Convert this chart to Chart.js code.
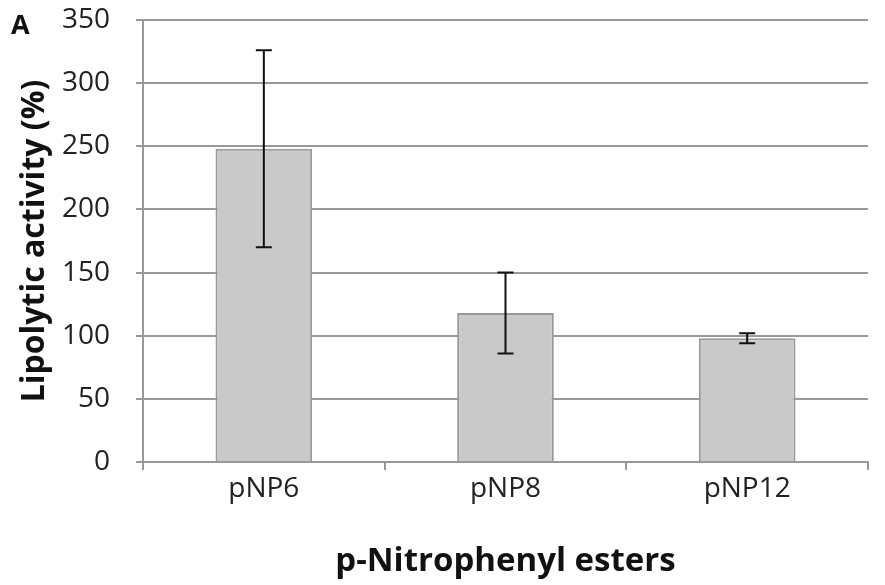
<!DOCTYPE html>
<html><head><meta charset="utf-8">
<script src="https://cdn.jsdelivr.net/npm/chart.js@4"></script>
<style>html,body{margin:0;padding:0;background:#fff}#wrap{position:relative;width:885px;height:585px}</style>
</head><body><div id="wrap"><canvas id="c" width="885" height="585"></canvas></div>
<script>
const categories = ["pNP6", "pNP8", "pNP12"];
const activity = [248, 118, 98];
const errors = [78, 32, 4];
const yTicks = [0, 50, 100, 150, 200, 250, 300, 350];

const FONT = "'Open Sans', 'Liberation Sans', sans-serif";

const errorBars = {
  id: 'errorBars',
  afterDatasetsDraw(chart) {
    const ctx = chart.ctx, x = chart.scales.x, y = chart.scales.y;
    ctx.save();
    ctx.strokeStyle = '#111';
    ctx.lineWidth = 2;
    activity.forEach((v, i) => {
      const cx = x.getPixelForValue(i);
      const top = y.getPixelForValue(v + errors[i]);
      const bot = y.getPixelForValue(v - errors[i]);
      ctx.beginPath();
      ctx.moveTo(cx, top); ctx.lineTo(cx, bot);
      ctx.moveTo(cx - 8, top); ctx.lineTo(cx + 8, top);
      ctx.moveTo(cx - 8, bot); ctx.lineTo(cx + 8, bot);
      ctx.stroke();
    });
    ctx.restore();
  }
};

const panelLabel = {
  id: 'panelLabel',
  afterDraw(chart) {
    const ctx = chart.ctx;
    ctx.save();
    ctx.font = "bold 27px " + FONT;
    ctx.fillStyle = '#111';
    ctx.textBaseline = 'middle';
    ctx.fillText('A', 11, 26);
    ctx.restore();
  }
};

new Chart(document.getElementById('c'), {
  type: 'bar',
  data: {
    labels: categories,
    datasets: [{
      data: activity,
      backgroundColor: '#c9c9c9',
      borderColor: '#999999',
      borderWidth: 2,
      categoryPercentage: 1,
      barPercentage: 0.4
    }]
  },
  options: {
    responsive: false,
    animation: false,
    layout: { padding: { top: 20, right: 17, left: 0, bottom: 0 } },
    plugins: { legend: { display: false }, tooltip: { enabled: false } },
    scales: {
      x: {
        grid: { display: true, drawOnChartArea: false, offset: true, color: '#999', lineWidth: 2, tickLength: 8 },
        border: { color: '#999', width: 2 },
        ticks: { color: '#222', font: { family: FONT, size: 28 }, padding: 2 },
        title: { display: true, text: 'p-Nitrophenyl esters', color: '#111', font: { family: FONT, size: 33, weight: 'bold' }, padding: { top: 12 } },
        afterFit(s) { s.height = 123; s.paddingLeft = 0; s.paddingRight = 0; }
      },
      y: {
        min: 0, max: 350,
        afterBuildTicks(s) { s.ticks = yTicks.map(v => ({ value: v })); },
        grid: { color: '#999', lineWidth: 2, tickLength: 7 },
        border: { color: '#999', width: 2 },
        ticks: { color: '#222', font: { family: FONT, size: 28 }, padding: 26 },
        title: { display: true, text: 'Lipolytic activity (%)', color: '#111', font: { family: FONT, size: 32, weight: 'bold' }, padding: { top: 16, bottom: 0 } },
        afterFit(s) { s.width = 143; s.paddingTop = 0; s.paddingBottom = 0; }
      }
    }
  },
  plugins: [errorBars, panelLabel]
});
</script></body></html>
